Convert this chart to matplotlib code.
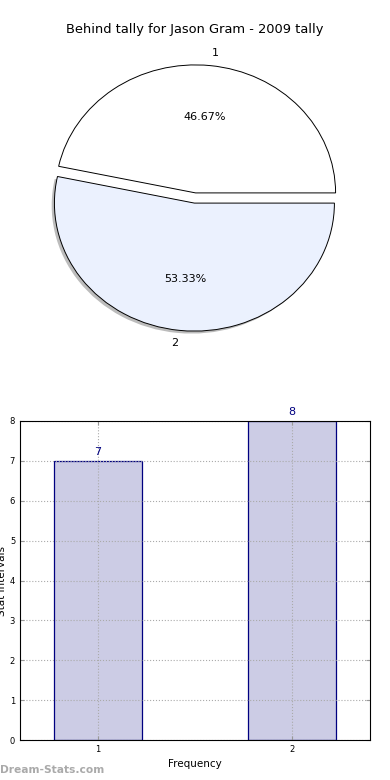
import matplotlib
matplotlib.use("Agg")
import matplotlib.pyplot as plt
from matplotlib.patches import Shadow

title = "Behind tally for Jason Gram - 2009 tally"
categories = ["1", "2"]
values = [7, 8]
pie_colors = ["#ffffff", "#ebf1fe"]
explode = [0.04, 0.04]

fig = plt.figure(figsize=(3.9, 7.8), dpi=100)

# Pie
axp = fig.add_axes([20/390, 1-358/780, 350/390, 320/780])
wedges, texts, autotexts = axp.pie(values, labels=categories, colors=pie_colors,
                                   explode=explode, autopct="%.2f%%", startangle=0,
                                   counterclock=True,
                                   wedgeprops=dict(edgecolor="black", linewidth=0.7),
                                   textprops=dict(fontsize=8))
axp.set_aspect("auto")
axp.set_xlim(-1.25, 1.25)
axp.set_ylim(-1.25, 1.25)
sh = Shadow(wedges[1], -0.014, -0.014, facecolor="#7a7a7a", edgecolor="none")
sh.set_zorder(wedges[1].get_zorder() - 0.1)
axp.add_patch(sh)
fig.text(0.5, 1-30/780, title, ha="center", va="center", fontsize=9.4)

# Bars
axb = fig.add_axes([20/390, 40/780, 350/390, 319/780])
x = [1, 2]
bars = axb.bar(x, values, width=0.45, color="#ccccE5", edgecolor="#000080", linewidth=0.9, zorder=2)
for xi, v in zip(x, values):
    axb.text(xi, v + 0.1, str(v), ha="center", va="bottom", color="#000080", fontsize=8)
axb.set_xlim(0.6, 2.4)
axb.set_ylim(0, 8)
axb.set_xticks(x)
axb.set_xticklabels(categories)
axb.set_yticks(range(0, 9))
axb.tick_params(labelsize=6, direction="in", length=3, color="#999999", top=True, right=True)
axb.grid(True, linestyle=":", color="#aaaaaa", linewidth=0.8, zorder=3)
axb.set_axisbelow(False)
axb.set_xlabel("Frequency", fontsize=7.5, labelpad=4)
axb.set_ylabel("Stat Intervals", fontsize=7.5, labelpad=2)
for s in axb.spines.values():
    s.set_linewidth(0.8)
    s.set_zorder(5)

fig.text(0.0, 1-770/780, "Dream-Stats.com", ha="left", va="center", fontsize=7.7,
         color="#aaaaaa", fontweight="bold")

fig.savefig("out.png", dpi=100)
